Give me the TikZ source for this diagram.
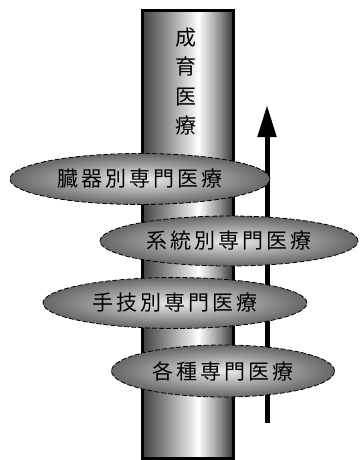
\documentclass[tikz,border=0pt]{standalone}
\usepackage{fontspec}
\newfontfamily\jp[LetterSpace=14]{Noto Sans CJK JP}
\newfontfamily\jpv{Noto Sans CJK JP}
\usetikzlibrary{arrows.meta,shapes.geometric}
\pgfdeclarehorizontalshading{pillarshade}{100bp}{color(0bp)=(black!75); color(25bp)=(black!75); color(38bp)=(black!45); color(56bp)=(white); color(68bp)=(black!45); color(75bp)=(black!80); color(100bp)=(black!80)}
\tikzset{
  disc/.style={ellipse, draw=black, line width=0.8pt, dash pattern=on 5pt off 2pt,
    inner color=black!8, outer color=black!60, font=\jp\fontsize{21}{21}\selectfont,
    text=black, inner sep=0pt, outer sep=0pt},
  pillartext/.style={font=\jpv\fontsize{21}{21}\selectfont, inner sep=0pt},
}
\begin{document}
\begin{tikzpicture}[x=1pt,y=-1pt]
\useasboundingbox (0,0) rectangle (359,460);
% pillar
\node[draw=black, line width=3pt, shading=pillarshade, minimum width=91pt, minimum height=447pt, inner sep=0pt] (pillar) at (187.5,234.5) {};
\node[pillartext] (c1) at (186,38) {成};
\node[pillartext] (c2) at (186,67) {育};
\node[pillartext] (c3) at (186,97) {医};
\node[pillartext] (c4) at (186,126) {療};
% arrow
\coordinate (abot) at (267,423);
\coordinate (atop) at (267,105);
\draw[line width=5pt, -{Triangle[length=32pt, width=18pt]}] (abot) -- (atop);
% discs
\node[disc, minimum width=260pt, minimum height=51pt] (d1) at (140,179) {臓器別専門医療};
\node[disc, minimum width=258pt, minimum height=50pt] (d2) at (229,241) {系統別専門医療};
\node[disc, minimum width=264pt, minimum height=51pt] (d3) at (175,303) {手技別専門医療};
\node[disc, minimum width=223pt, minimum height=52pt] (d4) at (223,371) {各種専門医療};
\end{tikzpicture}
\end{document}
